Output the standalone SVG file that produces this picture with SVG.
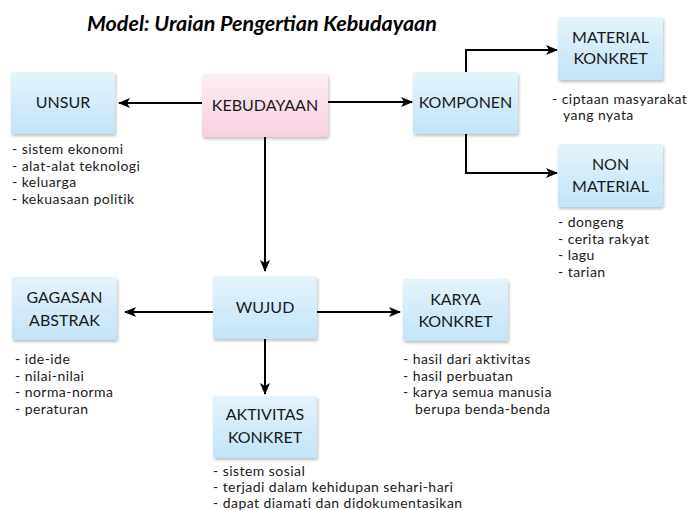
<svg xmlns="http://www.w3.org/2000/svg" width="694" height="510" viewBox="0 0 694 510">
<defs>
<linearGradient id="gBlue" x1="0" y1="0" x2="0" y2="1">
<stop offset="0" stop-color="#e6f4fc"/>
<stop offset="1" stop-color="#c3e3f6"/>
</linearGradient>
<linearGradient id="gPink" x1="0" y1="0" x2="0" y2="1">
<stop offset="0" stop-color="#fdeff5"/>
<stop offset="1" stop-color="#f6cfe0"/>
</linearGradient>
<filter id="sh" x="-10%" y="-10%" width="125%" height="130%">
<feDropShadow dx="1" dy="2" stdDeviation="1.5" flood-color="#000" flood-opacity="0.25"/>
</filter>
<marker id="ah" viewBox="0 0 12 10" refX="11" refY="5" markerWidth="12" markerHeight="10" markerUnits="userSpaceOnUse" orient="auto">
<path d="M0,0 L12,5 L0,10 L3,5 Z" fill="#000"/>
</marker>
</defs>
<style>
.box{fill:url(#gBlue);filter:url(#sh)}
.pink{fill:url(#gPink);filter:url(#sh)}
.lbl{font-family:Lato,"Liberation Sans",sans-serif;font-size:16px;fill:#1a1a1a;text-anchor:middle}
.desc{font-family:Lato,"Liberation Sans",sans-serif;font-size:14px;letter-spacing:0.45px;fill:#1a1a1a}
.title{font-family:Lato,"Liberation Sans",sans-serif;font-size:21.5px;font-weight:bold;font-style:italic;fill:#000}
.con{fill:none;stroke:#000;stroke-width:2;marker-end:url(#ah)}
</style>
<text class="title" x="87" y="31">Model: Uraian Pengertian Kebudayaan</text>
<g id="connectors">
<line class="con" x1="202" y1="103" x2="119" y2="103"/>
<line class="con" x1="328" y1="102" x2="412" y2="102"/>
<polyline class="con" points="466,72 466,50 557,50"/>
<polyline class="con" points="466,134 466,173 557,173"/>
<line class="con" x1="265" y1="137" x2="265" y2="271"/>
<line class="con" x1="213" y1="312" x2="125" y2="312"/>
<line class="con" x1="317" y1="312" x2="400" y2="312"/>
<line class="con" x1="265" y1="339" x2="265" y2="394"/>
</g>
<g id="unsur">
<rect class="box" x="11" y="72" width="104" height="62" rx="2"/>
<text class="lbl" x="63" y="108">UNSUR</text>
<text class="desc" x="12" y="154">- sistem ekonomi</text>
<text class="desc" x="12" y="170.5">- alat-alat teknologi</text>
<text class="desc" x="12" y="187">- keluarga</text>
<text class="desc" x="12" y="203.5">- kekuasaan politik</text>
</g>
<g id="kebudayaan">
<rect class="pink" x="202" y="74" width="126" height="63" rx="2"/>
<text class="lbl" x="265" y="111">KEBUDAYAAN</text>
</g>
<g id="komponen">
<rect class="box" x="413" y="72" width="105" height="62" rx="2"/>
<text class="lbl" x="465.5" y="108">KOMPONEN</text>
</g>
<g id="material">
<rect class="box" x="558" y="17" width="105" height="63" rx="2"/>
<text class="lbl" x="610.5" y="43">MATERIAL</text>
<text class="lbl" x="610.5" y="64">KONKRET</text>
<text class="desc" x="552" y="104">- ciptaan masyarakat</text>
<text class="desc" x="563" y="120">yang nyata</text>
</g>
<g id="nonmaterial">
<rect class="box" x="558" y="144" width="105" height="63" rx="2"/>
<text class="lbl" x="610.5" y="170">NON</text>
<text class="lbl" x="610.5" y="192">MATERIAL</text>
<text class="desc" x="558" y="227">- dongeng</text>
<text class="desc" x="558" y="243.5">- cerita rakyat</text>
<text class="desc" x="558" y="260">- lagu</text>
<text class="desc" x="558" y="276.5">- tarian</text>
</g>
<g id="wujud">
<rect class="box" x="213" y="276" width="104" height="63" rx="2"/>
<text class="lbl" x="265" y="313">WUJUD</text>
</g>
<g id="gagasan">
<rect class="box" x="12" y="277" width="105" height="63" rx="2"/>
<text class="lbl" x="64.5" y="303">GAGASAN</text>
<text class="lbl" x="64.5" y="326">ABSTRAK</text>
<text class="desc" x="15" y="364">- ide-ide</text>
<text class="desc" x="15" y="380.5">- nilai-nilai</text>
<text class="desc" x="15" y="397">- norma-norma</text>
<text class="desc" x="15" y="413.5">- peraturan</text>
</g>
<g id="karya">
<rect class="box" x="403" y="279" width="105" height="62" rx="2"/>
<text class="lbl" x="455.5" y="305">KARYA</text>
<text class="lbl" x="455.5" y="327">KONKRET</text>
<text class="desc" x="403" y="364">- hasil dari aktivitas</text>
<text class="desc" x="403" y="380.5">- hasil perbuatan</text>
<text class="desc" x="403" y="397">- karya semua manusia</text>
<text class="desc" x="415" y="413.5">berupa benda-benda</text>
</g>
<g id="aktivitas">
<rect class="box" x="213" y="396" width="104" height="62" rx="2"/>
<text class="lbl" x="265" y="420">AKTIVITAS</text>
<text class="lbl" x="265" y="443">KONKRET</text>
<text class="desc" x="213" y="475.5">- sistem sosial</text>
<text class="desc" x="213" y="492">- terjadi dalam kehidupan sehari-hari</text>
<text class="desc" x="213" y="508">- dapat diamati dan didokumentasikan</text>
</g>
</svg>
